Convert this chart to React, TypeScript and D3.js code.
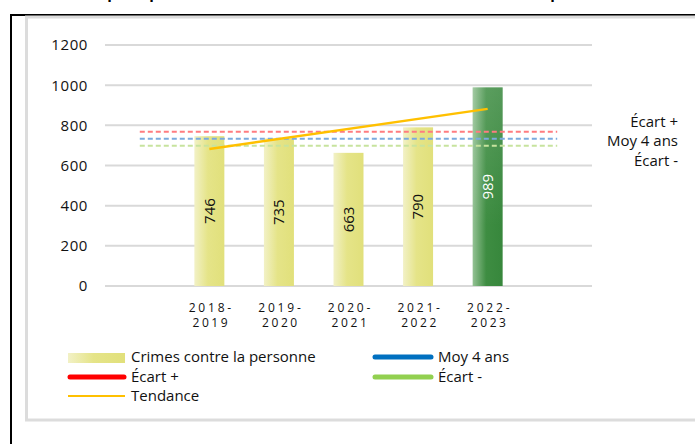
import React from "react";
import * as d3 from "d3";

const years = ["2018-2019", "2019-2020", "2020-2021", "2021-2022", "2022-2023"];
const crimes = [746, 735, 663, 790, 989];
const yTicks = [0, 200, 400, 600, 800, 1000, 1200];
const moy4ans = 733;
const ecartPlus = 768;
const ecartMoins = 698;
const trendEnds = [682, 882];
const rightLabels = ["Écart +", "Moy 4 ans", "Écart -"];

const W = 695;
const H = 444;
const FONT = "'Open Sans', 'Noto Sans', sans-serif";

export default function App() {
  const domain = ["_pad0", ...years, "_pad1"];
  const x = d3.scaleBand<string>().domain(domain).range([105, 592]).paddingInner(0).paddingOuter(0);
  const y = d3.scaleLinear().domain([0, 1200]).range([286, 45]);
  const bw = 30;
  const cx = (k: string) => (x(k) as number) + x.bandwidth() / 2;
  const refX1 = cx("_pad0");
  const refX2 = cx("_pad1");
  const refLines = [
    { v: ecartPlus, color: "#ff7c80" },
    { v: moy4ans, color: "#7aaade" },
    { v: ecartMoins, color: "#c7e39e" },
  ];
  const trendLine = d3.line<[number, number]>().x((d) => d[0]).y((d) => d[1]);
  const tPts: [number, number][] = [
    [cx(years[0]), y(trendEnds[0])],
    [cx(years[years.length - 1]), y(trendEnds[1])],
  ];

  return (
    <svg width={W} height={H} style={{ position: "absolute", left: 0, top: 0, background: "#fff" }}>
      <defs>
        <linearGradient id="gYel" x1="0" x2="1" y1="0" y2="0">
          <stop offset="0" stopColor="#f2f1c6" />
          <stop offset="0.45" stopColor="#e5e488" />
          <stop offset="1" stopColor="#e1e07b" />
        </linearGradient>
        <linearGradient id="gGreen" x1="0" x2="1" y1="0" y2="0">
          <stop offset="0" stopColor="#94c294" />
          <stop offset="0.45" stopColor="#3e8d42" />
          <stop offset="1" stopColor="#37873c" />
        </linearGradient>
        <linearGradient id="gGreenV" x1="0" x2="0" y1="0" y2="1">
          <stop offset="0" stopColor="#ffffff" stopOpacity="0.15" />
          <stop offset="0.7" stopColor="#ffffff" stopOpacity="0" />
        </linearGradient>
      </defs>

      {/* title descenders cut at top */}
      {[112, 154, 555].map((px, i) => (
        <text key={i} x={px} y={-1} fontFamily={FONT} fontWeight="bold" fontSize={15} textAnchor="middle" fill="#000">p</text>
      ))}

      {/* outer frame */}
      <rect x={11} y={15} width={W + 20} height={H + 20} fill="none" stroke="#000" strokeWidth={2} />
      {/* chart area frame */}
      <rect x={26.5} y={17} width={W + 20} height={403} fill="none" stroke="#dcdcdc" strokeWidth={3} />

      {/* gridlines */}
      {yTicks.map((t) => (
        <g key={t}>
          <line x1={105} x2={592} y1={y(t)} y2={y(t)} stroke="#d9d9d9" strokeWidth={2} />
          <text x={88} y={y(t)} dy="0.36em" textAnchor="end" fontFamily={FONT} fontSize={15} letterSpacing={0.6} fill="#111">{t}</text>
        </g>
      ))}

      {/* bars */}
      {years.map((k, i) => {
        const last = i === years.length - 1;
        const bx = cx(k) - bw / 2;
        const top = y(crimes[i]);
        const h = y(0) - top;
        return (
          <g key={k}>
            <rect x={bx} y={top} width={bw} height={h} fill={last ? "url(#gGreen)" : "url(#gYel)"} />
            {last && <rect x={bx} y={top} width={bw} height={h} fill="url(#gGreenV)" />}
            <text
              transform={`translate(${cx(k)},${top + h / 2}) rotate(-90)`}
              textAnchor="middle"
              dy="0.36em"
              fontFamily={FONT}
              fontSize={15}
              fill={last ? "#fff" : "#111"}
            >
              {crimes[i]}
            </text>
          </g>
        );
      })}

      {/* reference dashed lines */}
      {refLines.map((r, i) => (
        <line key={i} x1={refX1} x2={refX2} y1={y(r.v)} y2={y(r.v)} stroke={r.color} strokeWidth={2} strokeDasharray="5 3" />
      ))}

      {/* trend */}
      <path d={trendLine(tPts) || ""} stroke="#ffc000" strokeWidth={2.5} fill="none" />

      {/* x labels */}
      {years.map((k) => (
        <g key={k}>
          <text x={cx(k) + 2} y={311.5} textAnchor="middle" fontFamily={FONT} fontSize={12} letterSpacing={2.8} fill="#111">
            {k.split("-")[0] + "-"}
          </text>
          <text x={cx(k) + 2} y={327} textAnchor="middle" fontFamily={FONT} fontSize={12} letterSpacing={2.6} fill="#111">
            {k.split("-")[1]}
          </text>
        </g>
      ))}

      {/* right labels */}
      {rightLabels.map((l, i) => (
        <text key={l} x={678} y={127 + i * 19.3} textAnchor="end" fontFamily={FONT} fontSize={15} fill="#111">{l}</text>
      ))}

      {/* legend */}
      <g fontFamily={FONT} fontSize={15} fill="#111">
        <rect x={68} y={353} width={57} height={10} fill="url(#gYel)" />
        <text x={131} y={362}>Crimes contre la personne</text>
        <line x1={375} x2={431} y1={357} y2={357} stroke="#0070c0" strokeWidth={5} strokeLinecap="round" />
        <text x={438} y={362}>Moy 4 ans</text>
        <line x1={70} x2={124} y1={377} y2={377} stroke="#ff0000" strokeWidth={5} strokeLinecap="round" />
        <text x={131} y={382}>Écart +</text>
        <line x1={375} x2={431} y1={377} y2={377} stroke="#92d050" strokeWidth={5} strokeLinecap="round" />
        <text x={438} y={382}>Écart -</text>
        <line x1={68} x2={125} y1={396} y2={396} stroke="#ffc000" strokeWidth={2} />
        <text x={131} y={401}>Tendance</text>
      </g>
    </svg>
  );
}
